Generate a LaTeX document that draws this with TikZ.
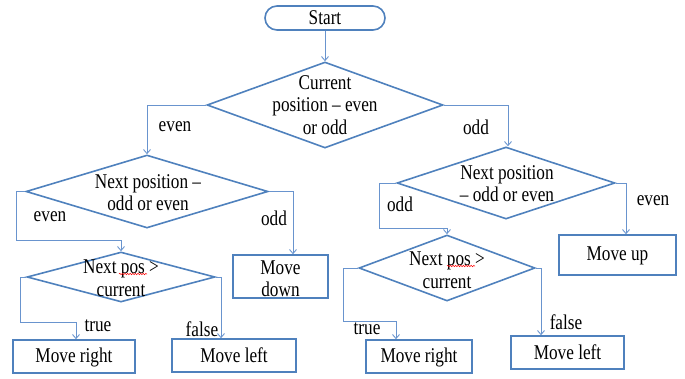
\documentclass[tikz,border=0pt]{standalone}
\usepackage{fontspec}
\setmainfont[FakeStretch=0.82]{Liberation Serif}
\usetikzlibrary{arrows.meta,calc,shapes.geometric,decorations.pathmorphing}
\definecolor{ob}{RGB}{79,129,189}
\definecolor{cb}{RGB}{105,148,206}
\begin{document}
\begin{tikzpicture}[x=1pt,y=-1pt,
  procbox/.style={draw=ob,line width=1.6pt,inner sep=0pt,fill=white},
  startbox/.style={draw=ob,line width=1.6pt,inner sep=0pt,rounded corners=12pt},
  decbox/.style={draw=ob,line width=1.6pt,shape=diamond,inner sep=0pt},
  txt/.style={font=\fontsize{21}{22.5}\selectfont,align=center,inner sep=0pt},
  lbl/.style={font=\fontsize{21}{22}\selectfont,inner sep=0pt},
  conn/.style={draw=cb,line width=0.9pt},
  arr/.style={conn,-{Straight Barb[length=4pt,width=7pt]}},
  wave/.style={draw=red,line width=0.5pt,decorate,decoration={snake,amplitude=0.7pt,segment length=2.6pt}}]
\useasboundingbox (0,0) rectangle (685,378);

% start
\node[startbox,minimum width=120,minimum height=24] (st) at (325,18) {};
\node[txt] (stt) at (325,18) {Start};

% decisions
\node[decbox,minimum width=236,minimum height=86] (d1) at (325,105) {};
\node[txt] (d1t) at (325,105) {Current\\position -- even\\or odd};
\node[decbox,minimum width=242,minimum height=73] (d2) at (147,191.5) {};
\node[txt] (d2t) at (148,192.5) {Next position --\\odd or even};
\node[decbox,minimum width=218,minimum height=72] (d3) at (506,183) {};
\node[txt] (d3t) at (507,183.5) {Next position\\-- odd or even};
\node[decbox,minimum width=188,minimum height=50] (d4) at (121,277) {};
\node[txt] (d4t) at (121,278) {Next pos >\\current};
\node[decbox,minimum width=176,minimum height=66] (d5) at (447,268) {};
\node[txt] (d5t) at (447,270) {Next pos >\\current};

% process boxes
\node[procbox,minimum width=95,minimum height=43] (md) at (280.5,276.5) {};
\node[txt] (mdt) at (280.5,278.5) {Move\\down};
\node[procbox,minimum width=122,minimum height=33] (mrl) at (74,356.5) {};
\node[txt] (mrlt) at (74,357) {Move right};
\node[procbox,minimum width=124,minimum height=33] (mll) at (234,355.5) {};
\node[txt] (mllt) at (234,355) {Move left};
\node[procbox,minimum width=117,minimum height=40] (mu) at (617.5,255) {};
\node[txt] (mut) at (617.5,255.5) {Move up};
\node[procbox,minimum width=106,minimum height=33] (mrr) at (419,356.5) {};
\node[txt] (mrrt) at (419,357) {Move right};
\node[procbox,minimum width=113,minimum height=33] (mlr) at (567.5,352.5) {};
\node[txt] (mlrt) at (567.5,352) {Move left};

% spell-check waves
\coordinate (w1a) at (119,274); \coordinate (w1b) at (147,274);
\coordinate (w2a) at (447,266); \coordinate (w2b) at (475,266);
\draw[wave] (w1a) -- (w1b);
\draw[wave] (w2a) -- (w2b);

% corner coordinates
\coordinate (c1) at (16,240);
\coordinate (c2) at (293,191.5);
\coordinate (c3) at (20,322);
\coordinate (c4) at (221,277);
\coordinate (c5) at (379,228);
\coordinate (c6) at (626,183);
\coordinate (c7) at (343,321);
\coordinate (c8) at (396,321);
\coordinate (c9) at (541,268);
\coordinate (c10) at (76,322);

% connectors
\draw[arr] (st.south) -- (d1.north);
\draw[arr] (d1.west) -| (d2.north);
\draw[arr] (d1.east) -| ($(d3.north)+(2,0)$);
\draw[arr] (d2.west) -| (c1) -| (d4.north);
\draw[arr] (d2.east) -- (c2) -- (c2 |- md.north);
\draw[arr] (d4.west) -| (c3) -- (c10) -- (c10 |- mrl.north);
\draw[arr] (d4.east) -- (c4) -- (c4 |- mll.north);
\draw[arr] (d3.west) -| (c5) -| (d5.north);
\draw[arr] (d3.east) -- (c6) -- (c6 |- mu.north);
\draw[arr] (d5.west) -| (c7) -- (c8) -- (c8 |- mrr.north);
\draw[arr] (d5.east) -- (c9) -- (c9 |- mlr.north);

% branch labels
\node[lbl] (l1) at (175,127) {even};
\node[lbl] (l2) at (476,127) {odd};
\node[lbl] (l3) at (50,217) {even};
\node[lbl] (l4) at (274,218) {odd};
\node[lbl] (l5) at (98,326) {true};
\node[lbl] (l6) at (202,329) {false};
\node[lbl] (l7) at (400,204) {odd};
\node[lbl] (l8) at (653,201) {even};
\node[lbl] (l9) at (367,329) {true};
\node[lbl] (l10) at (566,322) {false};
\end{tikzpicture}
\end{document}
